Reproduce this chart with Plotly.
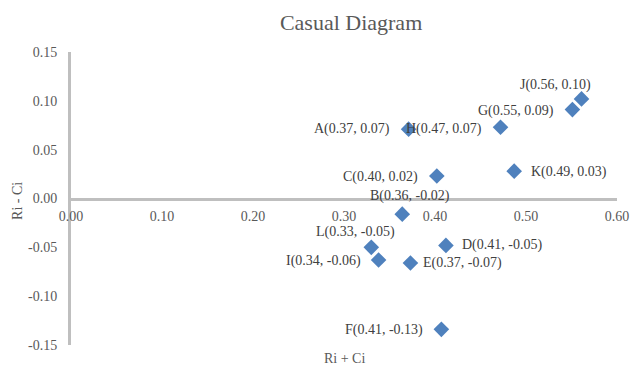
import plotly.graph_objects as go

# Data
names = ["A", "B", "C", "D", "E", "F", "G", "H", "I", "J", "K", "L"]
ri_plus_ci = [0.371, 0.364, 0.402, 0.412, 0.373, 0.407, 0.551, 0.472, 0.338, 0.561, 0.487, 0.330]
ri_minus_ci = [0.071, -0.016, 0.023, -0.048, -0.066, -0.134, 0.091, 0.073, -0.063, 0.102, 0.028, -0.050]
labels = ["A(0.37, 0.07)", "B(0.36, -0.02)", "C(0.40, 0.02)", "D(0.41, -0.05)",
          "E(0.37, -0.07)", "F(0.41, -0.13)", "G(0.55, 0.09)", "H(0.47, 0.07)",
          "I(0.34, -0.06)", "J(0.56, 0.10)", "K(0.49, 0.03)", "L(0.33, -0.05)"]
x_ticks = [0.0, 0.1, 0.2, 0.3, 0.4, 0.5, 0.6]
x_ticktext = ["0.00", "0.10", "0.20", "0.30", "0.40", "0.50", "0.60"]
y_ticks = [-0.15, -0.10, -0.05, 0.0, 0.05, 0.10, 0.15]
y_ticktext = ["-0.15", "-0.10", "-0.05", "0.00", "0.05", "0.10", "0.15"]

# label placement (anchor, xshift, yshift) per point
label_pos = {
    "A": ("right", -17, 0), "B": ("center", 8, 18), "C": ("right", -17, -1),
    "D": ("left", 14, 0), "E": ("left", 11, 0), "F": ("right", -16, -1),
    "G": ("right", -16, -1), "H": ("right", -17, -2), "I": ("right", -16, -1),
    "J": ("center", -26, 14), "K": ("left", 15, -1), "L": ("center", -16, 15),
}

SERIF = "Liberation Serif, Times New Roman, serif"
AXIS_GRAY = "#BFBFBF"
TEXT_GRAY = "#595959"

fig = go.Figure()
fig.add_trace(go.Scatter(
    x=ri_plus_ci, y=ri_minus_ci, mode="markers",
    marker=dict(symbol="diamond", size=12, color="#4F81BD", line=dict(width=0)),
    hoverinfo="text", text=labels, showlegend=False, cliponaxis=False,
))

annotations = []
for n, xv, yv, lab in zip(names, ri_plus_ci, ri_minus_ci, labels):
    anc, xs, ys = label_pos[n]
    annotations.append(dict(
        x=xv, y=yv, xref="x", yref="y", text=lab, showarrow=False,
        xanchor=anc, yanchor="middle", xshift=xs, yshift=ys,
        font=dict(family=SERIF, size=14, color="#404040"),
    ))

# axis titles
annotations.append(dict(
    x=0.5, y=-0.012, xref="paper", yref="paper", yanchor="top", text="Ri + Ci",
    showarrow=False, font=dict(family=SERIF, size=14, color=TEXT_GRAY),
))
annotations.append(dict(
    x=-63 / 546, xref="paper", y=0.49, yref="paper", text="Ri - Ci", textangle=-90,
    showarrow=False, font=dict(family=SERIF, size=14, color=TEXT_GRAY),
))

fig.update_layout(
    width=632, height=365,
    margin=dict(l=71, r=15, t=52, b=20, autoexpand=False),
    paper_bgcolor="white", plot_bgcolor="white",
    title=dict(text="Casual Diagram", x=0.513, xref="paper", xanchor="center",
               y=1 - 22 / 365, yref="container", yanchor="middle",
               font=dict(family=SERIF, size=22, color=TEXT_GRAY)),
    xaxis=dict(
        range=[0, 0.6], tickvals=x_ticks, ticktext=x_ticktext,
        showgrid=False, zeroline=False, showline=True, linecolor=AXIS_GRAY, linewidth=3,
        ticks="", anchor="free", position=0.5, side="bottom", automargin=False,
        tickfont=dict(family=SERIF, size=14, color=TEXT_GRAY),
        ticklabelstandoff=4,
    ),
    yaxis=dict(
        range=[-0.15, 0.15], tickvals=y_ticks, ticktext=y_ticktext,
        showgrid=False, zeroline=False, showline=True, linecolor=AXIS_GRAY, linewidth=3,
        ticks="", automargin=False, tickfont=dict(family=SERIF, size=14, color=TEXT_GRAY),
        ticklabelstandoff=8,
    ),
    annotations=annotations,
)

fig.write_html("out.html")
